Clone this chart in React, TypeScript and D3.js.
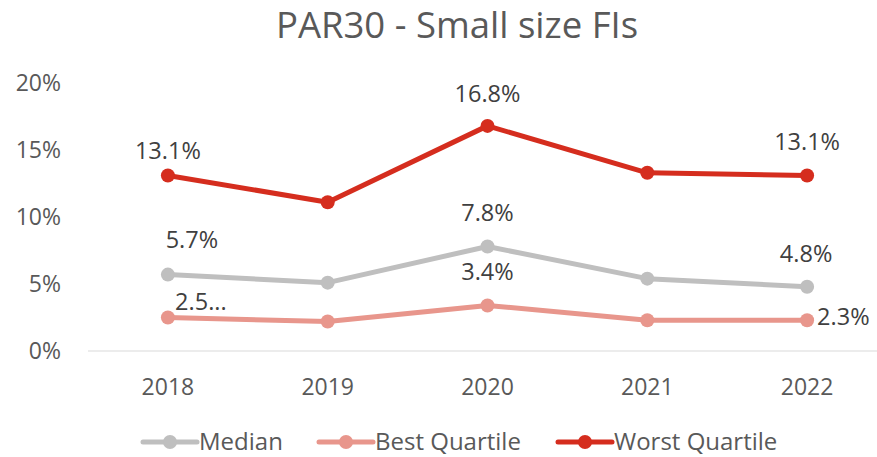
import { useEffect, useRef } from 'react'
import * as d3 from 'd3'

const years = ['2018', '2019', '2020', '2021', '2022']
const median = [5.7, 5.1, 7.8, 5.4, 4.8]
const bestQuartile = [2.5, 2.2, 3.4, 2.3, 2.3]
const worstQuartile = [13.1, 11.1, 16.8, 13.3, 13.1]
const yTicks = [0, 5, 10, 15, 20]

interface Series {
  name: string
  values: number[]
  color: string
  labels: (string | null)[]
}

const series: Series[] = [
  { name: 'Median', values: median, color: '#BFBFBF', labels: ['5.7%', null, '7.8%', null, '4.8%'] },
  { name: 'Best Quartile', values: bestQuartile, color: '#E8968C', labels: ['2.5...', null, '3.4%', null, '2.3%'] },
  { name: 'Worst Quartile', values: worstQuartile, color: '#D52D1E', labels: ['13.1%', null, '16.8%', null, '13.1%'] },
]

// label placement relative to the point: [dx, dy, anchor]
const labelOffsets: Record<string, [number, number, string][]> = {
  Median: [[24, -35, 'middle'], [0, 0, 'middle'], [0, -34, 'middle'], [0, 0, 'middle'], [-1, -33, 'middle']],
  'Best Quartile': [[33, -16, 'middle'], [0, 0, 'middle'], [0, -34, 'middle'], [0, 0, 'middle'], [10, -3, 'start']],
  'Worst Quartile': [[0, -25, 'middle'], [0, 0, 'middle'], [0, -32, 'middle'], [0, 0, 'middle'], [0, -34, 'middle']],
}

export default function App() {
  const svgRef = useRef<SVGSVGElement>(null)

  useEffect(() => {
    document.body.style.margin = '0'
    if (!svgRef.current) return
    const width = 877
    const height = 457
    const margin = { top: 83, right: -10, bottom: 106, left: 88 }
    const innerW = width - margin.left - margin.right
    const innerH = height - margin.top - margin.bottom

    const svg = d3.select(svgRef.current)
    svg.selectAll('*').remove()
    svg.attr('width', width).attr('height', height)
    const font = '"Open Sans", "Noto Sans", sans-serif'

    svg.append('text')
      .attr('x', 457).attr('y', 38)
      .attr('text-anchor', 'middle')
      .attr('font-family', font).attr('font-size', '36.5px').attr('fill', '#595959')
      .text('PAR30 - Small size FIs')

    const g = svg.append('g').attr('transform', `translate(${margin.left},${margin.top})`)

    const x = d3.scaleBand().domain(years).range([0, innerW])
    const y = d3.scaleLinear().domain([0, 20]).range([innerH, 0])
    const cx = (d: string) => x(d)! + x.bandwidth() / 2

    // baseline
    g.append('line')
      .attr('x1', 0).attr('x2', innerW - 10)
      .attr('y1', y(0)).attr('y2', y(0))
      .attr('stroke', '#D9D9D9').attr('stroke-width', 1)

    // Y axis labels
    g.selectAll('.ytick').data(yTicks).join('text')
      .attr('x', -27).attr('y', d => y(d)).attr('dy', '0.35em')
      .attr('text-anchor', 'end')
      .attr('font-family', font).attr('font-size', '23px').attr('fill', '#595959')
      .text(d => `${d}%`)

    // X axis labels
    g.selectAll('.xtick').data(years).join('text')
      .attr('x', d => cx(d)).attr('y', innerH + 36).attr('dy', '0.35em')
      .attr('text-anchor', 'middle')
      .attr('font-family', font).attr('font-size', '23px').attr('fill', '#595959')
      .text(d => d)

    const line = d3.line<number>()
      .x((_, i) => cx(years[i]))
      .y(d => y(d))

    series.forEach(s => {
      g.append('path').datum(s.values)
        .attr('fill', 'none').attr('stroke', s.color)
        .attr('stroke-width', 5).attr('stroke-linejoin', 'round')
        .attr('d', line)
      g.selectAll(null).data(s.values).join('circle')
        .attr('cx', (_, i) => cx(years[i])).attr('cy', d => y(d))
        .attr('r', 7).attr('fill', s.color)
    })

    series.forEach(s => {
      s.labels.forEach((lab, i) => {
        if (!lab) return
        const [dx, dy, anchor] = labelOffsets[s.name][i]
        g.append('text')
          .attr('x', cx(years[i]) + dx).attr('y', y(s.values[i]) + dy).attr('dy', '0.35em')
          .attr('text-anchor', anchor)
          .attr('font-family', font).attr('font-size', '23.5px').attr('fill', '#404040')
          .text(lab)
      })
    })

    // legend
    const legendX = [143, 319, 558]
    const ly = 442
    series.forEach((s, i) => {
      const lg = svg.append('g').attr('transform', `translate(${legendX[i]},${ly})`)
      lg.append('line').attr('x1', 0).attr('x2', 54).attr('y1', 0).attr('y2', 0)
        .attr('stroke', s.color).attr('stroke-width', 5).attr('stroke-linecap', 'round')
      lg.append('circle').attr('cx', 27).attr('cy', 0).attr('r', 7).attr('fill', s.color)
      lg.append('text').attr('x', 56).attr('y', 0).attr('dy', '0.35em')
        .attr('font-family', font).attr('font-size', '24px').attr('fill', '#595959')
        .text(s.name)
    })
  }, [])

  return <svg ref={svgRef} style={{ display: 'block' }} />
}
